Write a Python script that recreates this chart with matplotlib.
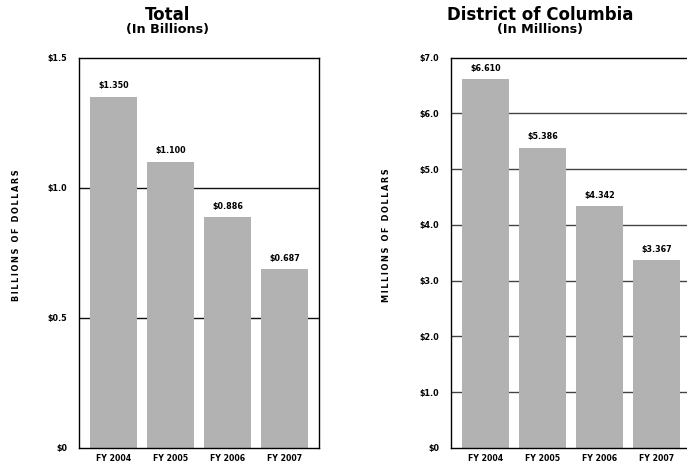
import matplotlib
matplotlib.use("Agg")
import matplotlib.pyplot as plt

years = ["FY 2004", "FY 2005", "FY 2006", "FY 2007"]
total_vals = [1.350, 1.100, 0.886, 0.687]
total_labels = ["$1.350", "$1.100", "$0.886", "$0.687"]
dc_vals = [6.610, 5.386, 4.342, 3.367]
dc_labels = ["$6.610", "$5.386", "$4.342", "$3.367"]
total_ticks = [0, 0.5, 1.0, 1.5]
total_ticklabels = ["$0", "$0.5", "$1.0", "$1.5"]
dc_ticks = [0, 1, 2, 3, 4, 5, 6, 7]
dc_ticklabels = ["$0", "$1.0", "$2.0", "$3.0", "$4.0", "$5.0", "$6.0", "$7.0"]

plt.rcParams['font.family'] = ['DejaVu Sans']
plt.rcParams['font.weight'] = 'bold'

W, H = 687, 463
fig = plt.figure(figsize=(W/100, H/100), dpi=100)

bar_color = '#b2b2b2'


def spaced(s):
    thin = '\u2009'
    words = s.split(' ')
    return (thin + ' ' + thin).join(thin.join(w) for w in words)


def make(ax, vals, labels, ticks, ticklabels, ymax, ylabel, ylabel_x, gridcolor):
    x = list(range(len(years)))
    ax.bar(x, vals, width=0.82, color=bar_color, zorder=2)
    ax.set_xlim(-0.6, 3.6)
    ax.set_ylim(0, ymax)
    ax.set_yticks(ticks)
    ax.set_yticklabels(ticklabels, fontsize=5.8, fontweight='bold')
    ax.set_xticks(x)
    ax.set_xticklabels(years, fontsize=5.6, fontweight='bold')
    ax.tick_params(axis='both', length=0)
    ax.tick_params(axis='y', pad=8.5)
    ax.tick_params(axis='x', pad=4.0)
    for t in ticks[1:-1]:
        ax.axhline(t, color=gridcolor, lw=1.0, zorder=1)
    for s in ax.spines.values():
        s.set_linewidth(1.0)
        s.set_color('black')
    for xi, v, lab in zip(x, vals, labels):
        ax.annotate(lab, (xi, v), xytext=(0, 4.5), textcoords='offset points',
                    ha='center', va='bottom', fontsize=5.8, fontweight='bold')
    fig.text(ylabel_x / W, 1 - 235 / H, spaced(ylabel), rotation=90, ha='center', va='center',
             fontsize=5.9, fontweight='bold')

ax1 = fig.add_axes([79/W, 1 - 448/H, 240/W, 390.5/H])
make(ax1, total_vals, total_labels, total_ticks, total_ticklabels, 1.5,
     "BILLIONS OF DOLLARS", 17, '#111111')
ax2 = fig.add_axes([451/W, 1 - 448/H, 240/W, 390.5/H])
make(ax2, dc_vals, dc_labels, dc_ticks, dc_ticklabels, 7.0,
     "MILLIONS OF DOLLARS", 386, '#444444')

fig.text(168/W, 1 - 15/H, "Total", ha='center', va='center', fontsize=12, fontweight='bold')
fig.text(168/W, 1 - 30/H, "(In Billions)", ha='center', va='center', fontsize=9.2, fontweight='bold')
fig.text(540/W, 1 - 15/H, "District of Columbia", ha='center', va='center', fontsize=12, fontweight='bold')
fig.text(540/W, 1 - 30/H, "(In Millions)", ha='center', va='center', fontsize=9.2, fontweight='bold')

fig.savefig("out.png", dpi=100)
